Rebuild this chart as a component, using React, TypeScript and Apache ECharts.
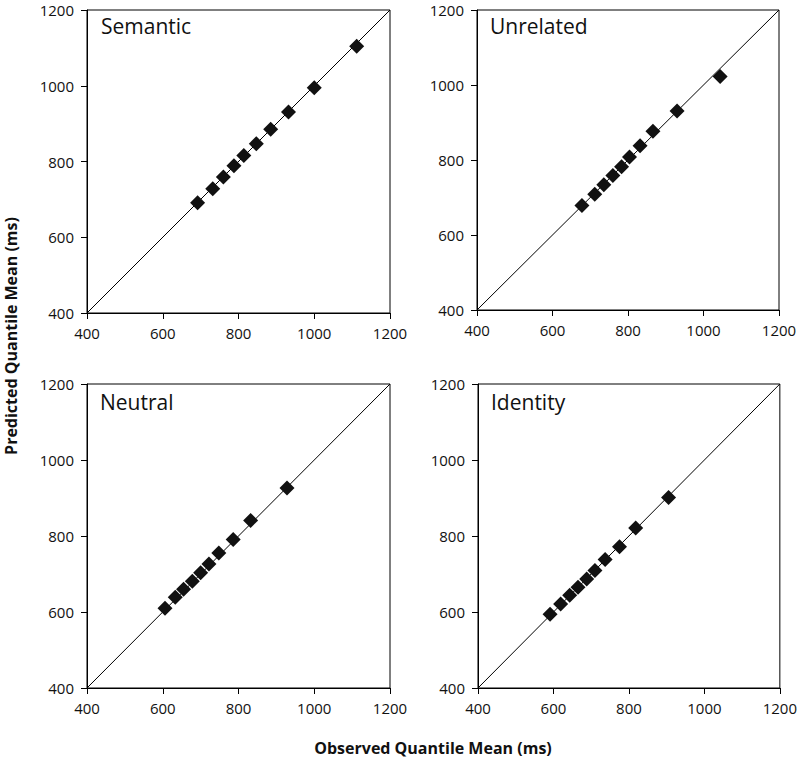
import React, { useEffect, useRef } from "react";
import * as echarts from "echarts";

const panelNames = ["Semantic", "Unrelated", "Neutral", "Identity"];
const axisTicks = [400, 600, 800, 1000, 1200];

const semanticObserved = [692, 732, 760, 788, 814, 847, 885, 932, 1000, 1112];
const semanticPredicted = [691, 728, 759, 789, 816, 847, 885, 931, 995, 1104];
const unrelatedObserved = [678, 712, 736, 760, 783, 804, 832, 866, 930, 1044];
const unrelatedPredicted = [679, 709, 734, 759, 782, 808, 838, 877, 931, 1023];
const neutralObserved = [606, 633, 655, 678, 700, 722, 748, 786, 832, 928];
const neutralPredicted = [610, 639, 660, 681, 703, 726, 755, 791, 841, 926];
const identityObserved = [591, 619, 643, 665, 688, 710, 737, 775, 818, 905];
const identityPredicted = [594, 621, 644, 665, 687, 709, 738, 772, 821, 901];

const observedSets = [semanticObserved, unrelatedObserved, neutralObserved, identityObserved];
const predictedSets = [semanticPredicted, unrelatedPredicted, neutralPredicted, identityPredicted];

const FONT = "'Open Sans', sans-serif";

export default function App() {
  const ref = useRef<HTMLDivElement>(null);
  useEffect(() => {
    if (!ref.current) return;
    const chart = echarts.init(ref.current, null, { renderer: "svg" });
    const grids = [
      { left: 87, top: 10, width: 303, height: 303 },
      { left: 477, top: 10, width: 302, height: 300 },
      { left: 87, top: 384, width: 303, height: 304 },
      { left: 478, top: 384, width: 303, height: 304 },
    ];
    const titlePos = [
      [101, 29],
      [490, 29],
      [100, 405],
      [491, 405],
    ];
    const lo = axisTicks[0];
    const hi = axisTicks[axisTicks.length - 1];
    const axisCommon = {
      type: "value",
      min: lo,
      max: hi,
      interval: 200,
      splitLine: { show: false },
      axisLine: { show: true, onZero: false, lineStyle: { color: "#000", width: 1 } },
      axisTick: { show: true, length: 6, inside: false, lineStyle: { color: "#000" } },
      axisLabel: {
        color: "#111",
        fontSize: 15,
        lineHeight: 14,
        fontFamily: FONT,
        formatter: (v: number) => String(v),
      },
    };
    const series: any[] = [];
    panelNames.forEach((_, i) => {
      series.push({
        type: "line",
        xAxisIndex: i,
        yAxisIndex: i,
        data: [
          [lo, lo],
          [hi, hi],
        ],
        showSymbol: false,
        symbol: "none",
        lineStyle: { color: "#000", width: 1 },
        z: 1,
      });
      series.push({
        type: "scatter",
        xAxisIndex: i,
        yAxisIndex: i,
        data: observedSets[i].map((v, j) => [v, predictedSets[i][j]]),
        symbol: "diamond",
        symbolSize: [15, 15],
        itemStyle: { color: "#111", opacity: 1 },
        z: 2,
      });
    });
    chart.setOption({
      animation: false,
      backgroundColor: "#fff",
      grid: grids.map((g) => ({
        ...g,
        show: true,
        borderColor: "#000",
        borderWidth: 1,
        backgroundColor: "transparent",
        containLabel: false,
      })),
      xAxis: grids.map((_, i) => ({
        ...axisCommon,
        gridIndex: i,
        axisLabel: { ...axisCommon.axisLabel, margin: 13 },
      })),
      yAxis: grids.map((_, i) => ({
        ...axisCommon,
        gridIndex: i,
        axisLabel: { ...axisCommon.axisLabel, margin: 13 },
      })),
      series,
      graphic: [
        ...panelNames.map((name, i) => ({
          type: "text",
          left: titlePos[i][0],
          top: titlePos[i][1] - 14,
          style: { text: name, fontSize: 21, fontFamily: FONT, fill: "#111" },
        })),
        {
          type: "text",
          x: 11,
          y: 336,
          rotation: Math.PI / 2,
          style: {
            text: "Predicted Quantile Mean (ms)",
            fontSize: 16,
            fontWeight: "bold",
            fontFamily: FONT,
            fill: "#111",
            align: "center",
            verticalAlign: "middle",
          },
        },
        {
          type: "text",
          x: 433,
          y: 748,
          style: {
            text: "Observed Quantile Mean (ms)",
            fontSize: 16,
            fontWeight: "bold",
            fontFamily: FONT,
            fill: "#111",
            align: "center",
            verticalAlign: "middle",
          },
        },
      ],
    });
    return () => chart.dispose();
  }, []);
  return (
    <div
      ref={ref}
      style={{ position: "fixed", left: 0, top: 0, width: 800, height: 760, background: "#fff" }}
    />
  );
}
